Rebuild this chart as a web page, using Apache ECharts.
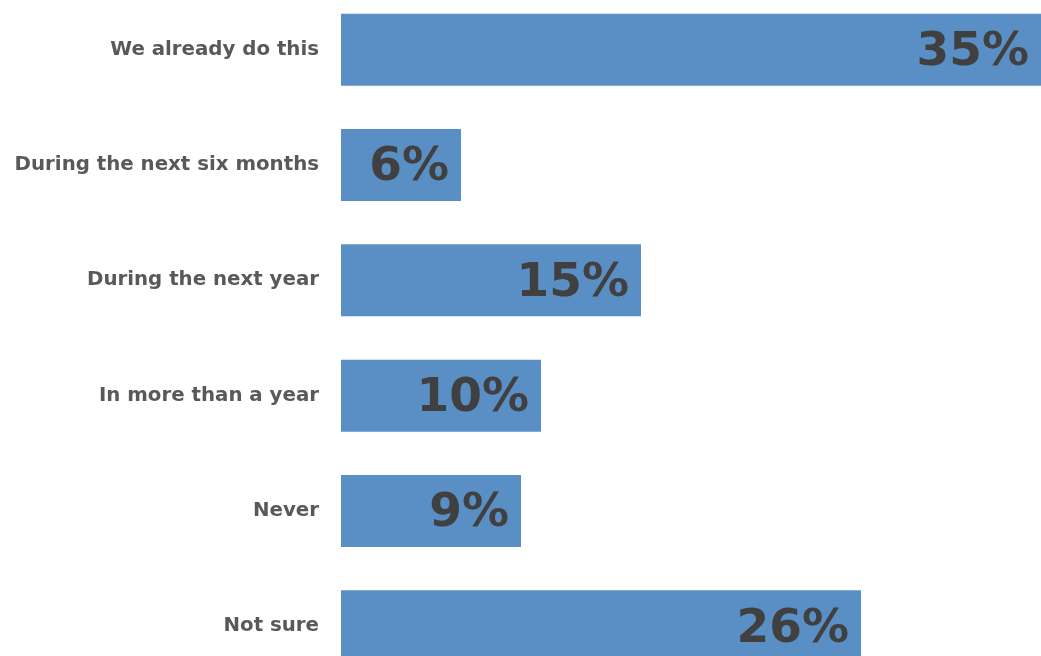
<!DOCTYPE html>
<html>
<head>
<meta charset="utf-8">
<script src="https://cdn.jsdelivr.net/npm/echarts@6/dist/echarts.min.js"></script>
<style>
  html, body { margin: 0; padding: 0; background: #ffffff; }
  #chart { width: 1041px; height: 656px; }
</style>
</head>
<body>
<div id="chart"></div>
<script>
// Survey answers, top to bottom
const categories = [
  'We already do this',
  'During the next six months',
  'During the next year',
  'In more than a year',
  'Never',
  'Not sure'
];
// Share of respondents, percent
const values = [35, 6, 15, 10, 9, 26];

const chart = echarts.init(document.getElementById('chart'));
chart.setOption({
  animation: false,
  grid: {
    left: 341, right: 0, top: -8, height: 692,
    containLabel: false,
    outerBoundsMode: 'none'
  },
  xAxis: {
    type: 'value',
    min: 0,
    max: 35,
    show: false
  },
  yAxis: {
    type: 'category',
    data: categories,
    inverse: true,
    axisLine: { show: false },
    axisTick: { show: false },
    axisLabel: {
      margin: 22,
      color: '#595959',
      fontFamily: 'DejaVu Sans',
      fontWeight: 'bold',
      fontSize: 19.8,
      padding: [4, 0, 0, 0]
    }
  },
  series: [{
    type: 'bar',
    data: values,
    barWidth: 72,
    itemStyle: { color: '#5A8FC5' },
    label: {
      show: true,
      position: 'insideRight',
      distance: 12,
      offset: [0, 3],
      formatter: '{c}%',
      color: '#404040',
      fontFamily: 'DejaVu Sans',
      fontWeight: 'bold',
      fontSize: 47
    }
  }]
});
</script>
</body>
</html>
